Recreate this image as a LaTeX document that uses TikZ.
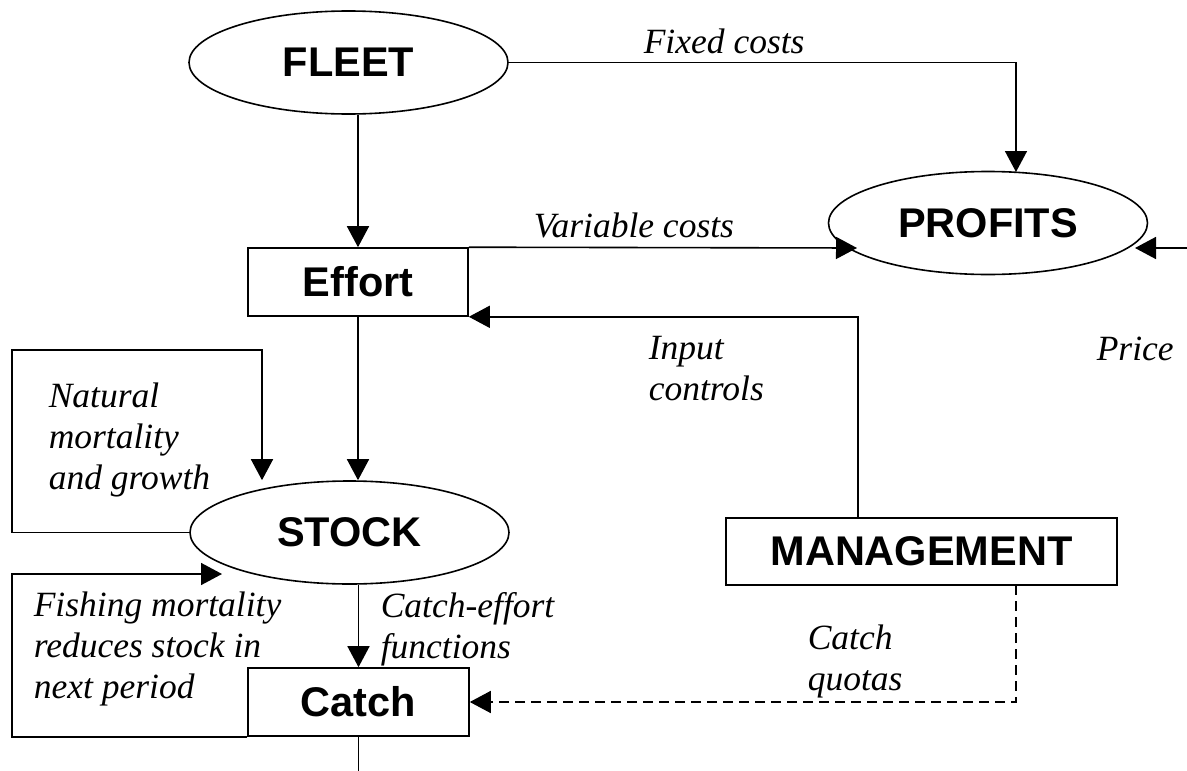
\documentclass[tikz,border=0pt]{standalone}
\usepackage{fontspec}
\setmainfont{Liberation Serif}
\setsansfont{Liberation Sans}
\usepackage{tikz}
\usetikzlibrary{shapes.geometric, arrows.meta, positioning}

\begin{document}
\begin{tikzpicture}[x=1pt,y=-1pt,line width=1.6pt,
  >={Triangle[length=21pt,width=22pt]},
  oval/.style={draw,ellipse,minimum width=319pt,minimum height=103pt,inner sep=0pt,
    font=\fontsize{41.5}{48}\selectfont\sffamily\bfseries},
  box/.style={draw,rectangle,minimum height=68pt,inner sep=0pt,
    font=\fontsize{41.5}{48}\selectfont\sffamily\bfseries},
  lbl/.style={anchor=base west,align=left,inner sep=0pt,
    font=\fontsize{35.5}{41}\selectfont\itshape}]
\useasboundingbox (0,0) rectangle (1187,771);

\node[oval] (fleet) at (348.5,62.5) {FLEET};
\node[oval] (profits) at (988,223) {PROFITS};
\node[oval] (stock) at (349.5,532.5) {STOCK};
\node[box,minimum width=220pt] (effort) at (358,282) {Effort};
\node[box,minimum width=221pt] (catch) at (358.5,702) {Catch};
\node[box,minimum width=391pt,minimum height=67pt] (mgmt) at (921.5,551.5) {MANAGEMENT};

% labels: base = last line
\node[lbl] (fixed) at (643,53) {Fixed costs};
\node[lbl] (varc) at (533,237) {Variable costs};
\node[lbl] (input) at (648,400) {Input\\controls};
\node[lbl] (price) at (1096,360) {Price};
\node[lbl] (natural) at (48,489) {Natural\\mortality\\and growth};
\node[lbl] (fishing) at (33,698) {Fishing mortality\\reduces stock in\\next period};
\node[lbl] (ceff) at (380,658) {Catch-effort\\functions};
\node[lbl] (quota) at (807,690) {Catch\\quotas};

% free ends
\coordinate (fixdrop) at (1016,172);
\coordinate (vctip) at (857,248);
\coordinate (pricein) at (1187,248);
\coordinate (pricetip) at (1135,248);
\coordinate (ctrl) at (858,518);
\coordinate (natL) at (12,350);
\coordinate (natR) at (262,350);
\coordinate (fishL) at (12,574);
\coordinate (fishtip) at (222,574);
\coordinate (catchout) at (358.5,771);
\coordinate (quotatop) at (1016,585);

\draw[->] (fleet.south -| effort.north) -- (effort.north);
\draw[->] (fleet.east) -| (fixdrop);
\draw[->] (effort.north east) -- (vctip);
\draw[->] (pricein) -- (pricetip);
\draw[->] (ctrl) |- (effort.south east);
\draw[->] (effort.south) -- (effort.south |- stock.north);
\draw[->] (stock.west) -| (natL) -- (natR) -- (natR |- stock.north);
\draw[->] (catch.north |- stock.south) -- (catch.north);
\draw[->] (catch.south west) -| (fishL) -- (fishtip);
\draw (catch.south) -- (catchout);
\draw[->,dash pattern=on 10pt off 6pt] (quotatop) |- (catch.east);
\end{tikzpicture}
\end{document}
